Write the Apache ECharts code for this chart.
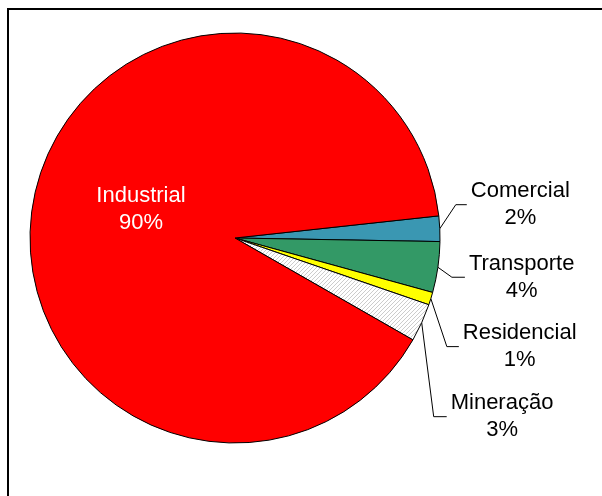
<!DOCTYPE html>
<html>
<head>
<meta charset="utf-8">
<script src="https://cdn.jsdelivr.net/npm/echarts@6/dist/echarts.min.js"></script>
<style>
  html, body { margin: 0; padding: 0; background: #fff; }
  #chart { width: 602px; height: 496px; }
</style>
</head>
<body>
<div id="chart"></div>
<script>
// Energy consumption share by sector
const categories = ['Comercial', 'Transporte', 'Residencial', 'Mineração', 'Industrial'];
const shares = [2, 4, 1, 3, 90];

// Light diagonal hatch used for the mining slice
function hatchPattern() {
  const c = document.createElement('canvas');
  c.width = 4; c.height = 4;
  const g = c.getContext('2d');
  g.fillStyle = '#ffffff';
  g.fillRect(0, 0, 4, 4);
  g.fillStyle = '#cccccc';
  for (let i = 0; i < 4; i++) g.fillRect(3 - i, i, 1, 1);
  return c;
}

const palette = ['#3a97b2', '#339966', '#ffff00', { image: hatchPattern(), repeat: 'repeat' }, '#ff0000'];

// Leader-line bends for the outside labels: [dx, dy] of the elbow, then horizontal run
const elbows = [[16, -24, 11], [14, 10, 13], [16, 48, 12], [12, 94, 13]];

const chart = echarts.init(document.getElementById('chart'), null, { renderer: 'canvas' });

chart.setOption({
  animation: false,
  backgroundColor: '#ffffff',
  graphic: [{
    type: 'rect',
    shape: { x: 8, y: 9, width: 700, height: 600 },
    style: { fill: 'none', stroke: '#000', lineWidth: 2 },
    silent: true
  }],
  series: [{
    type: 'pie',
    center: [235, 238],
    radius: 205,
    startAngle: 6.2,
    clockwise: true,
    avoidLabelOverlap: false,
    emphasis: { disabled: true },
    itemStyle: { borderColor: '#000', borderWidth: 1 },
    label: {
      show: true,
      position: 'outside',
      formatter: p => p.name + '\n' + p.value + '%',
      fontFamily: 'Liberation Sans, Arial, sans-serif',
      fontSize: 22,
      lineHeight: 27,
      color: '#000',
      align: 'center'
    },
    labelLine: {
      show: true,
      length: 15,
      length2: 12,
      lineStyle: { color: '#000', width: 1 }
    },
    labelLayout: function (params) {
      const i = params.dataIndex;
      if (i === 4) {
        return { x: 141, y: 209, align: 'center', verticalAlign: 'middle' };
      }
      const p0 = params.labelLinePoints[0];
      const e = elbows[i];
      const p1 = [p0[0] + e[0], p0[1] + e[1]];
      const p2 = [p1[0] + e[2], p1[1]];
      return {
        x: p2[0] + 4 + params.labelRect.width / 2,
        y: p2[1],
        align: 'center',
        verticalAlign: 'middle',
        labelLinePoints: [p0, p1, p2]
      };
    },
    data: categories.map((name, i) => {
      const item = { name: name, value: shares[i], itemStyle: { color: palette[i] } };
      if (i === 4) {
        item.label = { position: 'inside', color: '#ffffff' };
        item.labelLine = { show: false };
      }
      return item;
    })
  }]
});
</script>
</body>
</html>
